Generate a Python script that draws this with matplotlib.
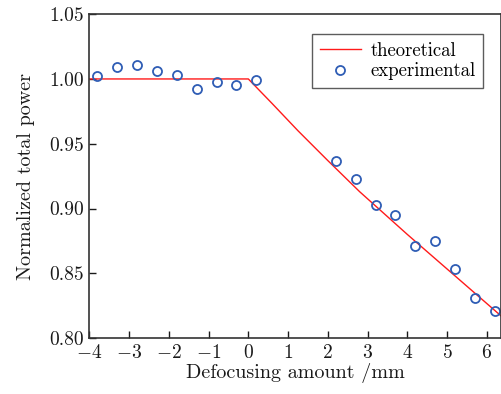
import matplotlib
matplotlib.use("Agg")
import matplotlib.pyplot as plt

plt.rcParams['font.family'] = 'serif'
plt.rcParams['font.serif'] = ['cmr10']
plt.rcParams['mathtext.fontset'] = 'cm'
plt.rcParams['axes.formatter.use_mathtext'] = True
plt.rcParams['axes.unicode_minus'] = True

# theoretical curve
theo_x = [-4.0, 0.0, 0.6, 1.25, 2.0, 2.8, 4.0, 5.2, 6.4]
theo_y = [1.000, 1.000, 0.981, 0.960, 0.937, 0.913, 0.880, 0.848, 0.816]

# experimental points
exp_x = [-3.8, -3.3, -2.8, -2.3, -1.8, -1.3, -0.8, -0.3, 0.2,
         2.2, 2.7, 3.2, 3.7, 4.2, 4.7, 5.2, 5.7, 6.2]
exp_y = [1.002, 1.009, 1.011, 1.006, 1.003, 0.992, 0.998, 0.995, 0.999,
         0.937, 0.923, 0.903, 0.895, 0.871, 0.875, 0.853, 0.831, 0.821]

xticks = [-4, -3, -2, -1, 0, 1, 2, 3, 4, 5, 6]
yticks = [0.80, 0.85, 0.90, 0.95, 1.00, 1.05]

fig = plt.figure(figsize=(5.02, 3.94), dpi=100)
ax = fig.add_axes([0.178, 0.142, 0.821, 0.822])

ax.plot(theo_x, theo_y, color='#ff1a1a', lw=1.0, label='theoretical')
ax.plot(exp_x, exp_y, 'o', mfc='none', mec='#2f5db5', mew=1.3, ms=6.5,
        label='experimental')

ax.set_xlim(-4, 6.37)
ax.set_ylim(0.80, 1.05)
ax.set_xticks(xticks)
ax.set_yticks(yticks)
ax.set_yticklabels([f"{v:.2f}" for v in yticks])
ax.set_xticklabels([f"${v}$" if v >= 0 else f"$-{abs(v)}$" for v in xticks])
ax.tick_params(direction='in', length=5, width=1, labelsize=14, colors='#1a1a1a', pad=4)
for s in ax.spines.values():
    s.set_color('#333333')
    s.set_linewidth(1.2)

ax.set_xlabel('Defocusing amount /mm', fontsize=14.5, color='#1a1a1a', labelpad=1)
ax.set_ylabel('Normalized total power', fontsize=14.5, color='#1a1a1a', labelpad=10)

leg = ax.legend(loc='upper right', bbox_to_anchor=(0.955, 0.938), fontsize=13.5,
                frameon=True, fancybox=False, edgecolor='#333333',
                handlelength=2.2, borderpad=0.4, labelspacing=0.15,
                handletextpad=0.5, borderaxespad=0)
leg.get_frame().set_linewidth(1.0)

fig.savefig('out.png', dpi=100)
